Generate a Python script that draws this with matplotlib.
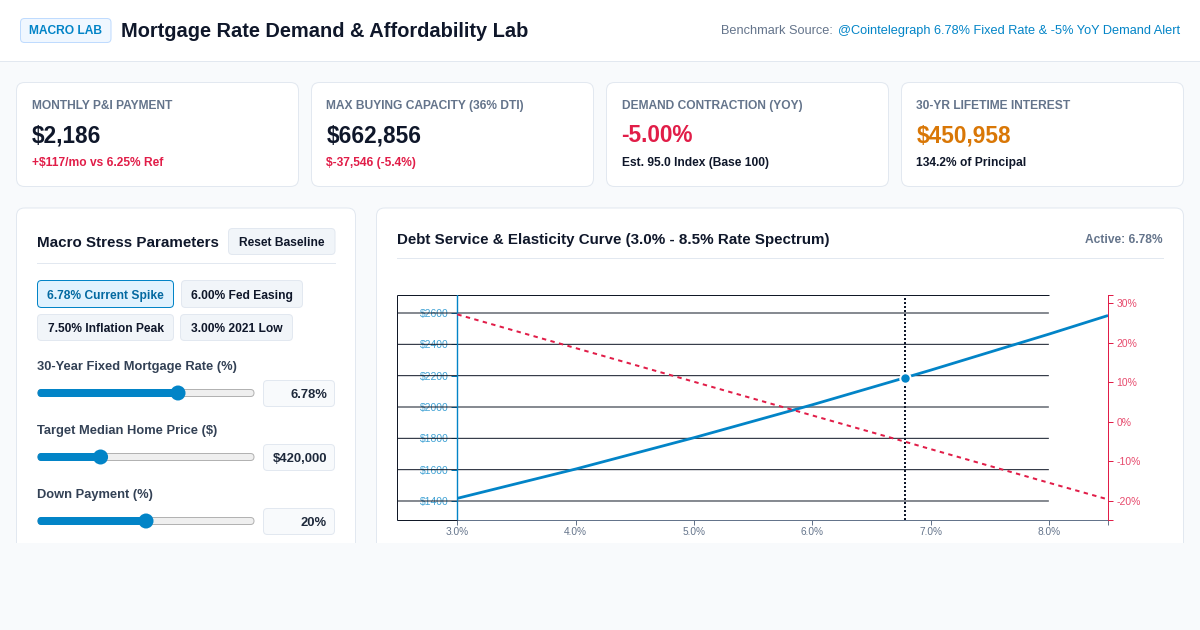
import matplotlib
matplotlib.use("Agg")
import matplotlib.pyplot as plt
from matplotlib.patches import FancyBboxPatch, Rectangle, Circle

plt.rcParams["font.family"] = ["Liberation Sans", "DejaVu Sans"]

# chart data
rates = [3.0, 4.0, 5.0, 6.0, 6.78, 7.0, 8.0, 8.5]
payments = [1417, 1604, 1804, 2014, 2186, 2235, 2465, 2584]
demand = [27.1, 18.6, 10.1, 1.6, -5.0, -6.9, -15.4, -19.6]
active_rate = 6.78
active_payment = 2186
x_ticks = [3, 4, 5, 6, 7, 8]
left_ticks = [1400, 1600, 1800, 2000, 2200, 2400, 2600]
right_ticks = [-20, -10, 0, 10, 20, 30]

# kpi cards
card_labels = ["MONTHLY P&I PAYMENT", "MAX BUYING CAPACITY (36% DTI)", "DEMAND CONTRACTION (YOY)", "30-YR LIFETIME INTEREST"]
card_values = ["$2,186", "$662,856", "-5.00%", "$450,958"]
card_notes = ["+$117/mo vs 6.25% Ref", "$-37,546 (-5.4%)", "Est. 95.0 Index (Base 100)", "134.2% of Principal"]

# sliders
slider_labels = ["30-Year Fixed Mortgage Rate (%)", "Target Median Home Price ($)", "Down Payment (%)"]
slider_texts = ["6.78%", "$420,000", "20%"]
slider_values = [6.78, 420000, 20]
slider_mins = [2.5, 200000, 0]
slider_maxs = [9.0, 1000000, 40]

BLUE = "#0284c7"
RED = "#e11d48"
INK = "#0f172a"
GREY = "#64748b"
BORDER = "#e2e8f0"
PAGE = "#f8fafc"
PX = 0.72  # one css pixel in points at dpi 100

fig = plt.figure(figsize=(12, 6.3), dpi=100, facecolor=PAGE)
bg = fig.add_axes([0, 0, 1, 1])
bg.set_xlim(0, 1200)
bg.set_ylim(630, 0)
bg.axis("off")


def box(x0, y0, x1, y1, fc="white", ec=BORDER, r=8, z=1):
    p = FancyBboxPatch((x0, y0), x1 - x0, y1 - y0, boxstyle=f"round,pad=0,rounding_size={r}",
                       fc=fc, ec=ec, lw=PX, zorder=z)
    bg.add_patch(p)


def label(x, y, s, px=12, color=INK, weight="bold", ha="left", z=5):
    bg.text(x, y, s, fontsize=px * PX, color=color, fontweight=weight, ha=ha, va="baseline", zorder=z)


# header
bg.add_patch(Rectangle((0, 0), 1200, 61, fc="white", ec="none", zorder=0))
bg.plot([0, 1200], [61, 61], color=BORDER, lw=PX, zorder=1)
box(20.5, 18.5, 111, 42.5, fc="#f0f7ff", ec="#bfdbfe", r=4)
label(29, 34.5, "MACRO LAB", 12, BLUE)
label(121, 37, "Mortgage Rate Demand & Affordability Lab", 20, INK)
label(1180, 34, "@Cointelegraph 6.78% Fixed Rate & -5% YoY Demand Alert", 12.75, BLUE, "normal", "right")
label(833, 34, "Benchmark Source:", 12.75, GREY, "normal", "right")

# kpi cards
note_colors = [RED, RED, INK, INK]
value_colors = [INK, INK, RED, "#d97706"]
for i in range(4):
    x0 = 16.5 + i * 295
    box(x0, 82.5, x0 + 282, 186.5)
    label(x0 + 15, 109, card_labels[i], 12, GREY)
    label(x0 + 15, 142, card_values[i], 22.6, value_colors[i])
    label(x0 + 15, 166, card_notes[i], 12, note_colors[i])

# control panel
box(16.5, 208, 355.5, 600)
label(37, 247, "Macro Stress Parameters", 15.13, INK)
box(228.5, 228.5, 335, 254.5, fc="#f1f5f9", r=4)
label(281.7, 246, "Reset Baseline", 12, INK, ha="center")
bg.plot([37, 335], [263, 263], color=BORDER, lw=PX, zorder=2)

preset_names = ["6.78% Current Spike", "6.00% Fed Easing", "7.50% Inflation Peak", "3.00% 2021 Low"]
preset_boxes = [(37.5, 280.5, 173.5, 307.5), (181.5, 280.5, 302.5, 307.5),
                (37.5, 314.5, 173.5, 340.5), (180.5, 314.5, 292.5, 340.5)]
for i, (name, b) in enumerate(zip(preset_names, preset_boxes)):
    on = i == 0
    box(*b, fc="#e0f2fe" if on else "#f1f5f9", ec=BLUE if on else BORDER, r=4)
    label((b[0] + b[2]) / 2, b[1] + 18, name, 12, "#0369a1" if on else INK, ha="center")

for i in range(3):
    top = 370 + i * 64
    cy = 393 + i * 64
    label(37, top, slider_labels[i], 12.85, "#334155")
    frac = (slider_values[i] - slider_mins[i]) / (slider_maxs[i] - slider_mins[i])
    tx = 45 + frac * 202
    box(38, cy - 3.5, 254, cy + 3.5, fc="#efefef", ec="#b2b2b2", r=3.5, z=2)
    box(38, cy - 3.5, tx, cy + 3.5, fc=BLUE, ec=BLUE, r=3.5, z=3)
    bg.add_patch(Circle((tx, cy), 7.5, fc=BLUE, ec="none", zorder=4))
    box(263.5, cy - 12.5, 334.5, cy + 13.5, fc=PAGE, r=4, z=2)
    label(327, cy + 4.5, slider_texts[i], 13, "#1e293b", ha="right")

# chart panel
box(376.5, 208, 1183.5, 600)
label(397, 244, "Debt Service & Elasticity Curve (3.0% - 8.5% Rate Spectrum)", 15.13, INK)
label(1163, 243, f"Active: {active_rate:.2f}%", 12, GREY, ha="right")
bg.plot([397, 1163], [258, 258], color=BORDER, lw=PX, zorder=2)

# panels get cut off at the bottom
bg.add_patch(Rectangle((0, 543), 1200, 90, fc=PAGE, ec="none", zorder=10))

# chart
ax_l, ax_r, ax_t, ax_b = 397, 1108, 295, 520
ax = fig.add_axes([ax_l / 1200, 1 - ax_b / 630, (ax_r - ax_l) / 1200, (ax_b - ax_t) / 630])
ax.patch.set_visible(False)
ax.set_xlim(2.49, 8.5)
ax.set_ylim(1278.7, 2714.9)
ax.set_axisbelow(True)

for s in ["top", "right"]:
    ax.spines[s].set_visible(False)
ax.spines["left"].set_position(("data", 3.0))
ax.spines["left"].set_color(BLUE)
ax.spines["left"].set_linewidth(PX)
ax.spines["bottom"].set_color(GREY)
ax.spines["bottom"].set_linewidth(PX)

ax.set_xticks(x_ticks + [8.5])
ax.set_xticklabels([f"{t:.1f}%" for t in x_ticks] + [""])
ax.tick_params(axis="x", colors=GREY, labelsize=7.3, length=3.6, width=PX, pad=1.6)
ax.set_yticks(left_ticks)
ax.set_yticklabels([f"${t}" for t in left_ticks])
ax.tick_params(axis="y", colors=BLUE, labelsize=7.5, length=4.3, width=PX, pad=2, direction="out")
for t in ax.get_yticklabels():
    t.set_alpha(0.75)

# black grid and frame, ends at 8% tick
xmin = ax.get_xlim()[0]
grid = ax.hlines(left_ticks, xmin, 8.0, color="#111827", lw=PX, zorder=1)
grid.set_snap(False)
ax.hlines(ax.get_ylim()[1], xmin, 8.0, color="#111827", lw=PX, zorder=1, clip_on=False)
ax.hlines(ax.get_ylim()[0], xmin, 3.0, color="#111827", lw=PX, zorder=3, clip_on=False)
ax.vlines(xmin, *ax.get_ylim(), color="#111827", lw=PX, zorder=1, clip_on=False)
ax.axvline(3.0, color=BLUE, lw=1.0, zorder=3)

ax.axvline(active_rate, color=INK, lw=2 * PX, ls=(0, (1, 1)), zorder=2)
ax.plot(rates, payments, color=BLUE, lw=2.0, zorder=4, solid_capstyle="butt", clip_on=False)
ax.plot([active_rate], [active_payment], "o", ms=7.5, mfc=BLUE, mec="white", mew=1.44, zorder=6)

ax2 = ax.twinx()
ax2.patch.set_visible(False)
ax2.set_ylim(-24.8, 32.0)
for s in ["top", "left", "bottom"]:
    ax2.spines[s].set_visible(False)
ax2.spines["right"].set_color(RED)
ax2.spines["right"].set_linewidth(PX)
ax2.set_yticks(right_ticks)
ax2.set_yticklabels([f"{t}%" for t in right_ticks])
ax2.tick_params(axis="y", colors=RED, labelsize=7.5, length=3.6, width=PX, pad=2.4)
for t in ax2.get_yticklabels():
    t.set_alpha(0.8)
ax2.plot(rates, demand, color=RED, lw=2 * PX, ls=(0, (2.2, 2.2)), zorder=3, clip_on=False)
# end caps on the right axis
ax2.hlines([32.0, -24.8], 8.5, 8.545, color=RED, lw=PX, clip_on=False)

fig.savefig("out.png", dpi=100, facecolor=fig.get_facecolor())
